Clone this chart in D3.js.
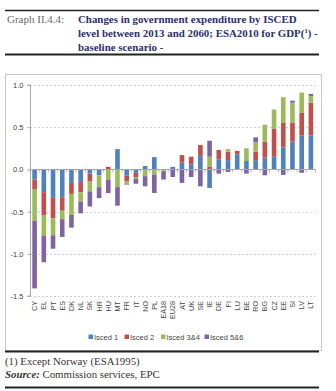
<!DOCTYPE html>
<html>
<head>
<meta charset="utf-8">
<script src="https://cdn.jsdelivr.net/npm/d3@7"></script>
<style>
  html, body { margin: 0; padding: 0; background: #ffffff; }
  svg { display: block; }
</style>
</head>
<body>
<svg id="chart" width="336" height="391"></svg>
<script>
// Countries, ordered by total change
const countries = ["CY","EL","PT","ES","DK","NL","SK","HR","HU","MT","FR","IT","NO","PL","EA18","EU28",
  "AT","UK","SE","IE","DE","FI","LU","BE","RO","BG","CZ","EE","SI","LV","LT"];

// Change in expenditure (pp of GDP), 2013-2060, by ISCED level
const isced1  = [-0.12,-0.27,-0.33,-0.33,-0.16,-0.15,-0.05,-0.07, 0.00, 0.24,-0.07,-0.04, 0.04, 0.145,-0.01, 0.03,
   0.08, 0.06, 0.16,-0.22, 0.12, 0.11, 0.18, 0.10, 0.11, 0.14, 0.15, 0.26, 0.33, 0.40, 0.40];
const isced2  = [-0.12,-0.27,-0.25,-0.16,-0.13,-0.12,-0.09, 0.00, 0.03, 0.00,-0.07,-0.05, 0.00, 0.00, 0.00, 0.00,
   0.09, 0.09, 0.13, 0.03, 0.11, 0.10, 0.04, 0.00, 0.10, 0.19, 0.33, 0.29, 0.225, 0.27, 0.39];
const isced34 = [-0.37,-0.25,-0.20,-0.10,-0.25,-0.11,-0.12,-0.14,-0.12,-0.21,-0.03,-0.02,-0.08,-0.06,-0.01, 0.00,
   0.00, 0.00, 0.00, 0.12, 0.00, 0.03, 0.00, 0.15, 0.11, 0.20, 0.23, 0.305, 0.235, 0.24, 0.08];
const isced56 = [-0.80,-0.31,-0.16,-0.21,-0.15,-0.14,-0.18,-0.13,-0.16,-0.22,-0.01,-0.06,-0.12,-0.22,-0.10,-0.09,
  -0.16,-0.09,-0.20, 0.19,-0.05,-0.03, 0.00,-0.05, 0.06,-0.07, 0.00,-0.065, 0.025,-0.04, 0.025];

const seriesNames = ["Isced 1","Isced 2","Isced 3&4","Isced 5&6"];
const seriesColors = ["#4f81bd","#c0504d","#9bbb59","#8064a2"];
const yTicks = [1.0, 0.5, 0.0, -0.5, -1.0, -1.5];

const rows = countries.map((c, i) => ({
  country: c,
  "Isced 1": isced1[i],
  "Isced 2": isced2[i],
  "Isced 3&4": isced34[i],
  "Isced 5&6": isced56[i]
}));

const svg = d3.select("#chart");
const serif = "'Liberation Serif', 'DejaVu Serif', serif";
const sans = "'Liberation Sans', Arial, sans-serif";

// ---- Header block ----
svg.append("line").attr("x1", 5).attr("x2", 319).attr("y1", 10.5).attr("y2", 10.5)
  .attr("stroke", "#222").attr("stroke-width", 1.6);
svg.append("line").attr("x1", 5).attr("x2", 319).attr("y1", 54.5).attr("y2", 54.5)
  .attr("stroke", "#222").attr("stroke-width", 2.2);

svg.append("text").attr("x", 7).attr("y", 23)
  .attr("font-family", serif).attr("font-size", 11).attr("fill", "#6a6a6a")
  .text("Graph II.4.4:");

const title = svg.append("text")
  .attr("font-family", serif).attr("font-size", 10.9).attr("font-weight", "bold")
  .attr("fill", "#2d2f6b");
title.append("tspan").attr("x", 78).attr("y", 23).text("Changes in government expenditure by ISCED");
title.append("tspan").attr("x", 78).attr("y", 36.8).text("level between 2013 and 2060; ESA2010 for GDP(");
title.append("tspan").attr("font-size", 6.5).attr("dy", -3.5).text("1");
title.append("tspan").attr("dy", 3.5).text(") -");
title.append("tspan").attr("x", 78).attr("y", 50.6).text("baseline scenario -");

// ---- Chart box ----
svg.append("rect").attr("x", 5.5).attr("y", 74.5).attr("width", 316).attr("height", 276)
  .attr("fill", "#ffffff").attr("stroke", "#c8c8c8").attr("stroke-width", 1);

// ---- Scales ----
const x = d3.scaleBand().domain(countries).range([30, 315.5])
  .paddingInner(0.5).paddingOuter(0.25);
const y = d3.scaleLinear().domain([-1.5, 1.0]).range([296, 85]);

// Gridlines (dashed)
svg.append("g").selectAll("line")
  .data(yTicks.filter(v => v !== 0))
  .join("line")
  .attr("x1", 30).attr("x2", 315.5)
  .attr("y1", d => Math.round(y(d)) + 0.5).attr("y2", d => Math.round(y(d)) + 0.5)
  .attr("stroke", "#c4c4c4").attr("stroke-width", 0.8).attr("stroke-dasharray", "2,2");

// Stacked bars, positive and negative parts diverging from zero
const stack = d3.stack().keys(seriesNames).offset(d3.stackOffsetDiverging);
const layers = stack(rows);

svg.append("g").selectAll("g")
  .data(layers)
  .join("g")
  .attr("fill", (d, i) => seriesColors[i])
  .selectAll("rect")
  .data(d => d)
  .join("rect")
  .attr("x", d => x(d.data.country))
  .attr("width", x.bandwidth())
  .attr("y", d => y(Math.max(d[0], d[1])))
  .attr("height", d => Math.abs(y(d[0]) - y(d[1])));

// Y axis
const yAxis = svg.append("g").attr("transform", "translate(30.5,0)")
  .call(d3.axisLeft(y).tickValues(yTicks).tickFormat(d3.format(".1f")).tickSize(3).tickPadding(4));
yAxis.select(".domain").attr("stroke", "#a6a6a6").attr("d", `M-3,${y(1.0)}H0V${y(-1.5)}H-3`);
yAxis.selectAll(".tick line").attr("stroke", "#a6a6a6");
yAxis.selectAll(".tick text").attr("font-family", sans).attr("font-size", 7.5).attr("fill", "#444")
  .text(d => d3.format(".1f")(d).replace("\u2212", "-"));

// Zero line with category tick marks
const zero = svg.append("g").attr("transform", `translate(0,${Math.round(y(0)) + 0.5})`);
zero.append("line").attr("x1", 30).attr("x2", 315.5).attr("stroke", "#a6a6a6").attr("stroke-width", 1);
zero.selectAll(".ct")
  .data(countries.concat(["_end"]))
  .join("line")
  .attr("class", "ct")
  .attr("x1", (d, i) => 30 + i * x.step())
  .attr("x2", (d, i) => 30 + i * x.step())
  .attr("y1", 0).attr("y2", 3)
  .attr("stroke", "#a6a6a6").attr("stroke-width", 0.8);

// Category labels along the bottom, rotated
svg.append("g").selectAll("text")
  .data(countries)
  .join("text")
  .attr("transform", d => `translate(${x(d) + x.bandwidth() / 2 + 2.6},301) rotate(-90)`)
  .attr("text-anchor", "end")
  .attr("font-family", sans).attr("font-size", 7.2).attr("fill", "#444")
  .text(d => d);

// Legend
const legendX = [88.5, 124.5, 161, 204.5];
const legend = svg.append("g").selectAll("g")
  .data(seriesNames)
  .join("g")
  .attr("transform", (d, i) => `translate(${legendX[i]},337)`);
legend.append("rect").attr("x", 0).attr("y", -2.5).attr("width", 4.5).attr("height", 4.5)
  .attr("fill", (d, i) => seriesColors[i]);
legend.append("text").attr("x", 5.5).attr("y", 2.6)
  .attr("font-family", sans).attr("font-size", 7.5).attr("fill", "#444")
  .text(d => d);

// Footer
svg.append("line").attr("x1", 5).attr("x2", 319).attr("y1", 351.5).attr("y2", 351.5)
  .attr("stroke", "#222").attr("stroke-width", 1.8);
svg.append("text").attr("x", 5).attr("y", 365)
  .attr("font-family", serif).attr("font-size", 10.8).attr("fill", "#333")
  .text("(1)  Except Norway (ESA1995)");
const src = svg.append("text").attr("x", 5).attr("y", 377.5)
  .attr("font-family", serif).attr("font-size", 10.8).attr("fill", "#333");
src.append("tspan").attr("font-weight", "bold").attr("font-style", "italic").text("Source:");
src.append("tspan").text(" Commission services, EPC");
svg.append("line").attr("x1", 5).attr("x2", 319).attr("y1", 387.5).attr("y2", 387.5)
  .attr("stroke", "#222").attr("stroke-width", 1.8);
</script>
</body>
</html>
